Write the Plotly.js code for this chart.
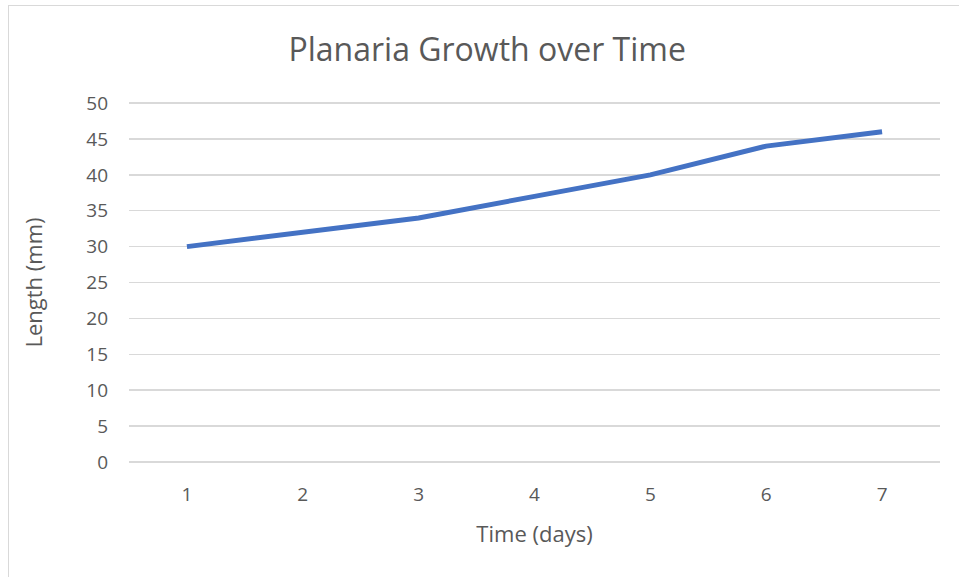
<!DOCTYPE html>
<html>
<head>
<meta charset="utf-8">
<script src="https://cdn.plot.ly/plotly-3.0.1.min.js"></script>
<style>
html,body{margin:0;padding:0;background:#fff;overflow:hidden;}
#wrap{position:relative;width:959px;height:577px;}
#chart{position:absolute;left:0;top:0;width:959px;height:577px;}
#border{position:absolute;left:8px;top:5px;width:1000px;height:1000px;border:1.5px solid #d9d9d9;pointer-events:none;}
</style>
</head>
<body>
<div id="wrap">
<div id="chart"></div>
<div id="border"></div>
</div>
<script>
const days = ["1","2","3","4","5","6","7"];
const lengthMm = [30, 32, 34, 37, 40, 44, 46];
const yTicks = [0,5,10,15,20,25,30,35,40,45,50];

const font = "Open Sans, Noto Sans, Liberation Sans, sans-serif";
Plotly.newPlot('chart', [{
  x: days, y: lengthMm, type: 'scatter', mode: 'lines',
  line: {color: '#4472C4', width: 5, shape: 'linear'},
  hoverinfo: 'skip'
}], {
  width: 959, height: 577,
  margin: {l: 129, r: 19, t: 102, b: 114},
  paper_bgcolor: 'rgba(0,0,0,0)', plot_bgcolor: '#fff',
  showlegend: false,
  title: {text: 'Planaria Growth over Time', font: {family: font, size: 32, color: '#595959'}, x: 0.508, xanchor: 'center', y: 0.913, yanchor: 'middle'},
  xaxis: {
    type: 'category', range: [-0.5, 6.5], showgrid: false, zeroline: false,
    showline: false, ticks: '', tickfont: {family: font, size: 19, color: '#595959'},
    ticklabelstandoff: 18,
    title: {text: 'Time (days)', font: {family: font, size: 22, color: '#595959'}, standoff: 20}
  },
  yaxis: {
    range: [-0.15, 50.15], tickvals: yTicks, ticktext: yTicks.map(String),
    showgrid: true, gridcolor: '#d9d9d9', gridwidth: 1.5, zeroline: false,
    showline: false, ticks: '', tickfont: {family: font, size: 19, color: '#595959'},
    ticklabelstandoff: 20,
    title: {text: 'Length (mm)', font: {family: font, size: 22, color: '#595959'}, standoff: 37}
  }
}, {staticPlot: true, displayModeBar: false});
</script>
</body>
</html>
